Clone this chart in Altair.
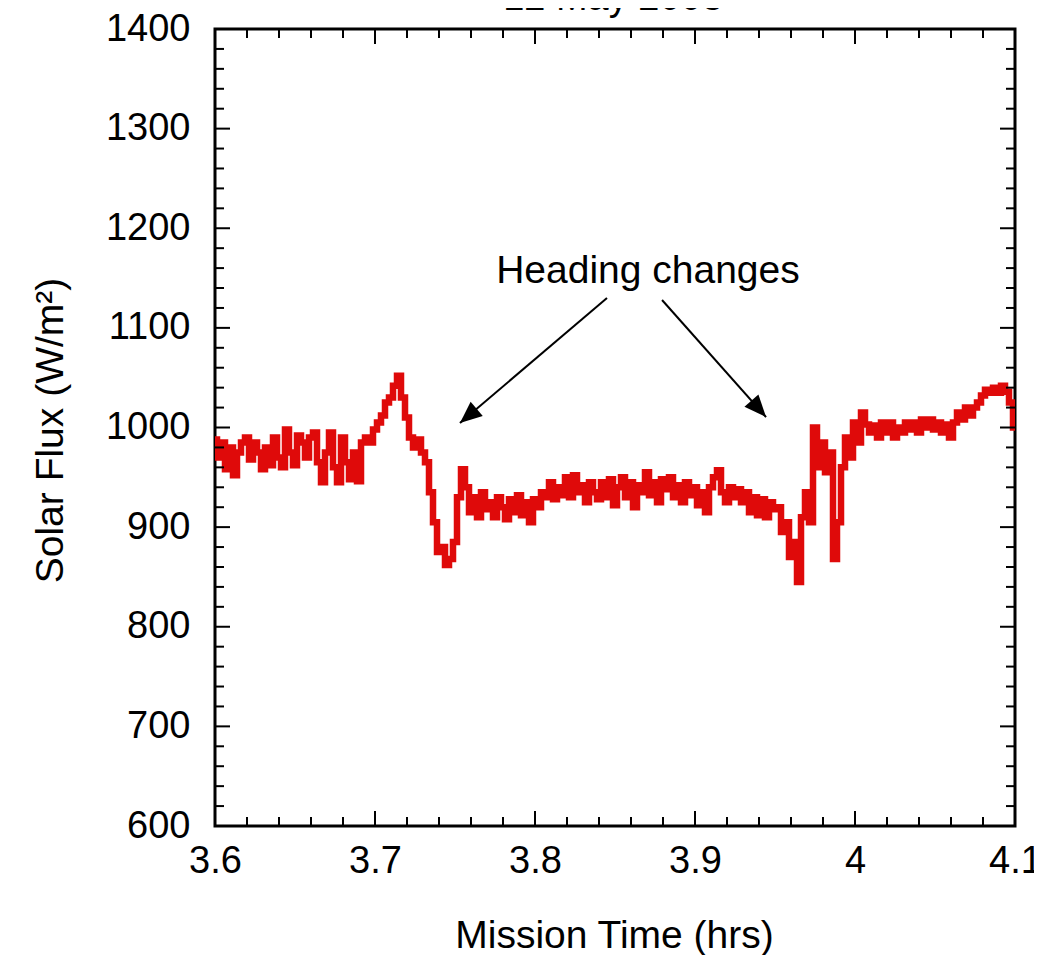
import altair as alt
import pandas as pd

# ---- data ----
t_start = 3.6
t_step = 0.0025
flux = [
    988, 970, 985, 958, 980, 952, 975, 985, 990, 968,
    985, 975, 958, 980, 962, 990, 970, 960, 998, 975,
    962, 992, 985, 970, 990, 995, 965, 945, 975, 995,
    960, 945, 990, 965, 948, 975, 946, 985, 990, 985,
    998, 1005, 1012, 1025, 1030, 1042, 1052, 1030, 1010, 990,
    980, 988, 975, 965, 935, 905, 875, 880, 862, 868,
    885, 930, 958, 940, 915, 930, 910, 935, 918, 925,
    910, 930, 920, 908, 928, 915, 932, 912, 925, 905,
    928, 920, 935, 930, 945, 928, 940, 932, 950, 930,
    952, 935, 942, 925, 945, 935, 928, 945, 930, 948,
    922, 940, 950, 930, 945, 920, 942, 935, 955, 932,
    945, 925, 948, 938, 950, 930, 942, 925, 945, 932,
    940, 922, 935, 915, 940, 950, 957, 935, 925, 940,
    930, 938, 925, 935, 915, 930, 912, 928, 910, 925,
    918, 920, 895, 905, 870, 885, 845, 910, 935, 905,
    1000, 960, 985, 955, 975, 868, 905, 960, 990, 970,
    1005, 985, 1015, 1003, 995, 1002, 990, 1005, 995, 1005,
    990, 1000, 995, 1005, 998, 1005, 995, 1008, 1000, 1008,
    998, 1005, 995, 1003, 990, 1005, 1015, 1008, 1020, 1012,
    1020, 1025, 1032, 1038, 1035, 1040, 1035, 1042, 1036, 1025,
    1000,
]
times = [round(t_start + t_step * i, 4) for i in range(len(flux))]

x_major = [3.6, 3.7, 3.8, 3.9, 4.0, 4.1]
x_minor = [3.62, 3.64, 3.66, 3.68, 3.72, 3.74, 3.76, 3.78, 3.82, 3.84, 3.86, 3.88,
           3.92, 3.94, 3.96, 3.98, 4.02, 4.04, 4.06, 4.08]
y_major = [600, 700, 800, 900, 1000, 1100, 1200, 1300, 1400]
y_minor = [620, 640, 660, 680, 720, 740, 760, 780, 820, 840, 860, 880,
           920, 940, 960, 980, 1020, 1040, 1060, 1080, 1120, 1140, 1160, 1180,
           1220, 1240, 1260, 1280, 1320, 1340, 1360, 1380]

# annotation arrows (data coordinates): start -> tip
arrow_t0 = [3.845, 3.8794]
arrow_v0 = [1130, 1128]
arrow_t1 = [3.7531, 3.9444]
arrow_v1 = [1004.5, 1010.5]
arrow_angle = [229.6, 138.4]
note_text = ["Heading changes"]
note_t = [3.8706]
note_v = [1145]
title_text = ["12 May 2003"]

# ---- chart ----
W, H = 800, 797
FONT = "Liberation Sans"
RED = "#df0a0a"

xs = alt.Scale(domain=[3.6, 4.1], nice=False, zero=False)
ys = alt.Scale(domain=[600, 1400], nice=False, zero=False)

ax_x = alt.Axis(
    values=x_major, format="~g", labelFontSize=38, labelPadding=16, labelFlush=False,
    labelOverlap=False, labelFont=FONT, labelColor="black",
    ticks=False, tickSize=0, domain=False, grid=False,
    title="Mission Time (hrs)", titleFont=FONT, titleColor="black",
    titleFontSize=39, titleFontWeight="normal",
    titleX=399, titleY=121, titleBaseline="alphabetic", titleAlign="center")
ax_y = alt.Axis(
    values=y_major, format="d", labelFontSize=38, labelPadding=25, labelFlush=False,
    labelOverlap=False, labelFont=FONT, labelColor="black",
    ticks=False, tickSize=0, domain=False, grid=False,
    title="Solar Flux (W/m²)", titleFont=FONT, titleColor="black",
    titleFontSize=39, titleFontWeight="normal",
    titleX=-153, titleY=401, titleBaseline="alphabetic", titleAlign="center", titleAngle=270)

def X(f):
    return alt.X(f, scale=xs, axis=ax_x)

def Y(f):
    return alt.Y(f, scale=ys, axis=ax_y)

df = pd.DataFrame({"t": times, "v": flux})

line = alt.Chart(df).mark_line(color=RED, strokeWidth=6.5, interpolate="step", clip=True).encode(
    x=X("t:Q"), y=Y("v:Q"))

def xticks(vals, length):
    d = pd.DataFrame({"t": vals})
    bottom = alt.Chart(d).mark_rule(color="black", strokeWidth=2).encode(
        x=X("t:Q"), y=alt.value(H), y2=alt.value(H - length))
    top = alt.Chart(d).mark_rule(color="black", strokeWidth=2).encode(
        x=X("t:Q"), y=alt.value(0), y2=alt.value(length))
    return [bottom, top]

def yticks(vals, length):
    d = pd.DataFrame({"v": vals})
    left = alt.Chart(d).mark_rule(color="black", strokeWidth=2).encode(
        y=Y("v:Q"), x=alt.value(0), x2=alt.value(length))
    right = alt.Chart(d).mark_rule(color="black", strokeWidth=2).encode(
        y=Y("v:Q"), x=alt.value(W), x2=alt.value(W - length))
    return [left, right]

ticks = xticks(x_major, 15) + xticks(x_minor, 9) + yticks(y_major, 15) + yticks(y_minor, 9)

adf = pd.DataFrame({"t": arrow_t0, "v": arrow_v0, "t2": arrow_t1, "v2": arrow_v1,
                    "ang": arrow_angle})
arrows = alt.Chart(adf).mark_rule(color="black", strokeWidth=2).encode(
    x=X("t:Q"), y=Y("v:Q"), x2="t2:Q", y2="v2:Q")
heads = alt.Chart(adf).mark_point(
    filled=True, shape="M0,0L0.85,2L-0.85,2Z", size=484, color="black", opacity=1,
    strokeWidth=0).encode(
    x=X("t2:Q"), y=Y("v2:Q"), angle=alt.Angle("ang:Q", scale=None))

ndf = pd.DataFrame({"t": note_t, "v": note_v, "label": note_text})
note = alt.Chart(ndf).mark_text(font=FONT, fontSize=39, color="black", align="center",
                                baseline="alphabetic").encode(
    x=X("t:Q"), y=Y("v:Q"), text="label:N")

tdf = pd.DataFrame({"label": title_text})
title = alt.Chart(tdf).mark_text(font=FONT, fontSize=38, color="black", align="center",
                                 baseline="alphabetic").encode(
    x=alt.value(398), y=alt.value(-19), text="label:N")

chart = alt.layer(line, *ticks, arrows, heads, note, title).properties(
    width=W, height=H,
    background="white",
    autosize=alt.AutoSizeParams(type="none"),
    padding={"left": 207, "top": 21, "right": 19, "bottom": 129},
).configure_view(stroke="black", strokeWidth=3)

chart.save("out.html", embed_options={"renderer": "svg", "actions": False})
